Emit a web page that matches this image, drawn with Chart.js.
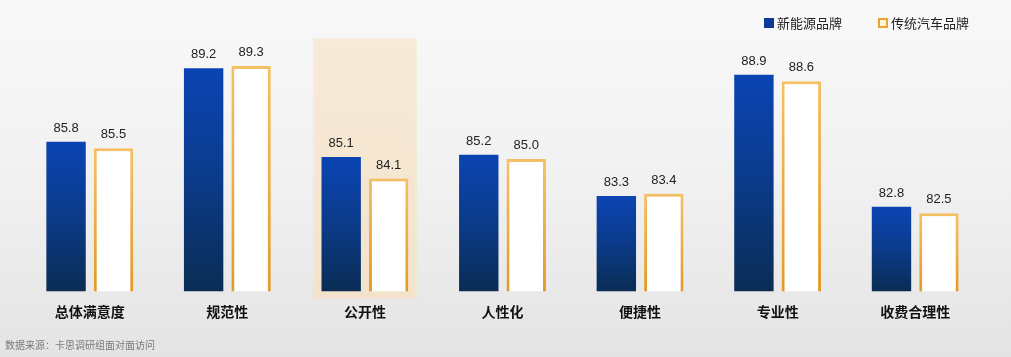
<!DOCTYPE html>
<html>
<head>
<meta charset="utf-8">
<script src="https://cdn.jsdelivr.net/npm/chart.js@4/dist/chart.umd.min.js"></script>
<style>
  html, body { margin: 0; padding: 0; }
  body { width: 1011px; height: 357px; overflow: hidden; position: relative;
         background: linear-gradient(to bottom, #f9f9f9 0%, #f1f1f1 50%, #e4e4e4 100%);
         font-family: "Noto Sans CJK SC", "Liberation Sans", sans-serif; }
  #wrap { position: absolute; left: 0; top: 0; width: 1011px; height: 357px; }
  .legend { position: absolute; top: 13px; font-size: 13px; color: #222; display: flex; align-items: center; white-space: nowrap; }
  .legend .sw { display: inline-block; width: 10px; height: 10px; margin-right: 3px; box-sizing: border-box; }
  #src { position: absolute; left: 5px; top: 337px; font-size: 10px; color: #7a7a7a; white-space: nowrap; }
</style>
</head>
<body>
<div id="wrap"><canvas id="c" width="1011" height="357"></canvas></div>
<div class="legend" style="left:764px;"><span class="sw" style="background:#0c3b9c;"></span>新能源品牌</div>
<div class="legend" style="left:878px;"><span class="sw" style="background:#fff3d6;border:2px solid #e9a431;"></span>传统汽车品牌</div>
<div id="src">数据来源：卡思调研组面对面访问</div>
<script>
const categories = ["总体满意度", "规范性", "公开性", "人性化", "便捷性", "专业性", "收费合理性"];
const newEnergy = [85.8, 89.2, 85.1, 85.2, 83.3, 88.9, 82.8];
const traditional = [85.5, 89.3, 84.1, 85.0, 83.4, 88.6, 82.5];
const seriesNames = ["新能源品牌", "传统汽车品牌"];
const highlightIndex = 2;

function blueGrad(ctx) {
  const chart = ctx.chart;
  const ca = chart.chartArea;
  if (!ca || ctx.parsed == null) return '#0c3b8c';
  const yTop = chart.scales.y.getPixelForValue(ctx.parsed.y);
  const g = chart.ctx.createLinearGradient(0, yTop, 0, ca.bottom);
  g.addColorStop(0, '#0b44b4');
  g.addColorStop(0.45, '#0b3c8e');
  g.addColorStop(1, '#0a2d55');
  return g;
}
function orangeGrad(ctx) {
  const chart = ctx.chart;
  const ca = chart.chartArea;
  if (!ca || ctx.parsed == null) return '#e8a230';
  const yTop = chart.scales.y.getPixelForValue(ctx.parsed.y);
  const g = chart.ctx.createLinearGradient(0, yTop, 0, ca.bottom);
  g.addColorStop(0, '#f5c065');
  g.addColorStop(1, '#e39a24');
  return g;
}

const highlightPlugin = {
  id: 'highlight',
  beforeDatasetsDraw(chart) {
    const { ctx, chartArea } = chart;
    const x = chart.scales.x.getPixelForValue(highlightIndex);
    const left = x - 50, right = x + 50, top = chartArea.top, bottom = chartArea.bottom + 6;
    ctx.save();
    ctx.fillStyle = 'rgba(245,226,196,0.5)';
    ctx.fillRect(left - 2, top - 2, right - left + 4, bottom - top + 4);
    const g = ctx.createLinearGradient(0, top, 0, bottom);
    g.addColorStop(0, '#f7ead7');
    g.addColorStop(1, '#f3e3cb');
    ctx.fillStyle = g;
    ctx.fillRect(left, top, right - left, bottom - top);
    ctx.restore();
  }
};

const labelPlugin = {
  id: 'valueLabels',
  afterDatasetsDraw(chart) {
    const { ctx } = chart;
    ctx.save();
    ctx.font = '13px "Liberation Sans", Arial, sans-serif';
    ctx.fillStyle = '#222';
    ctx.textAlign = 'center';
    ctx.textBaseline = 'alphabetic';
    chart.data.datasets.forEach((ds, di) => {
      const meta = chart.getDatasetMeta(di);
      meta.data.forEach((bar, i) => {
        ctx.fillText(ds.data[i].toFixed(1), bar.x, bar.y - 10);
      });
    });
    ctx.restore();
  }
};

new Chart(document.getElementById('c'), {
  type: 'bar',
  data: {
    labels: categories,
    datasets: [
      { label: seriesNames[0], data: newEnergy, backgroundColor: blueGrad, borderWidth: 0,
        categoryPercentage: 0.69, barPercentage: 0.83 },
      { label: seriesNames[1], data: traditional, backgroundColor: '#ffffff', borderColor: orangeGrad, borderWidth: 3,
        categoryPercentage: 0.69, barPercentage: 0.83 }
    ]
  },
  options: {
    responsive: false,
    animation: false,
    layout: { padding: { left: 21, right: 27, top: 40, bottom: 25 } },
    plugins: { legend: { display: false }, tooltip: { enabled: false } },
    scales: {
      x: {
        grid: { display: false, drawTicks: false },
        border: { display: false },
        ticks: { padding: 12, color: '#111', font: { family: '"Noto Sans CJK SC", sans-serif', size: 14, weight: 'bold' } }
      },
      y: {
        display: false,
        min: 78.9,
        max: 90.5
      }
    }
  },
  plugins: [highlightPlugin, labelPlugin]
});
</script>
</body>
</html>
